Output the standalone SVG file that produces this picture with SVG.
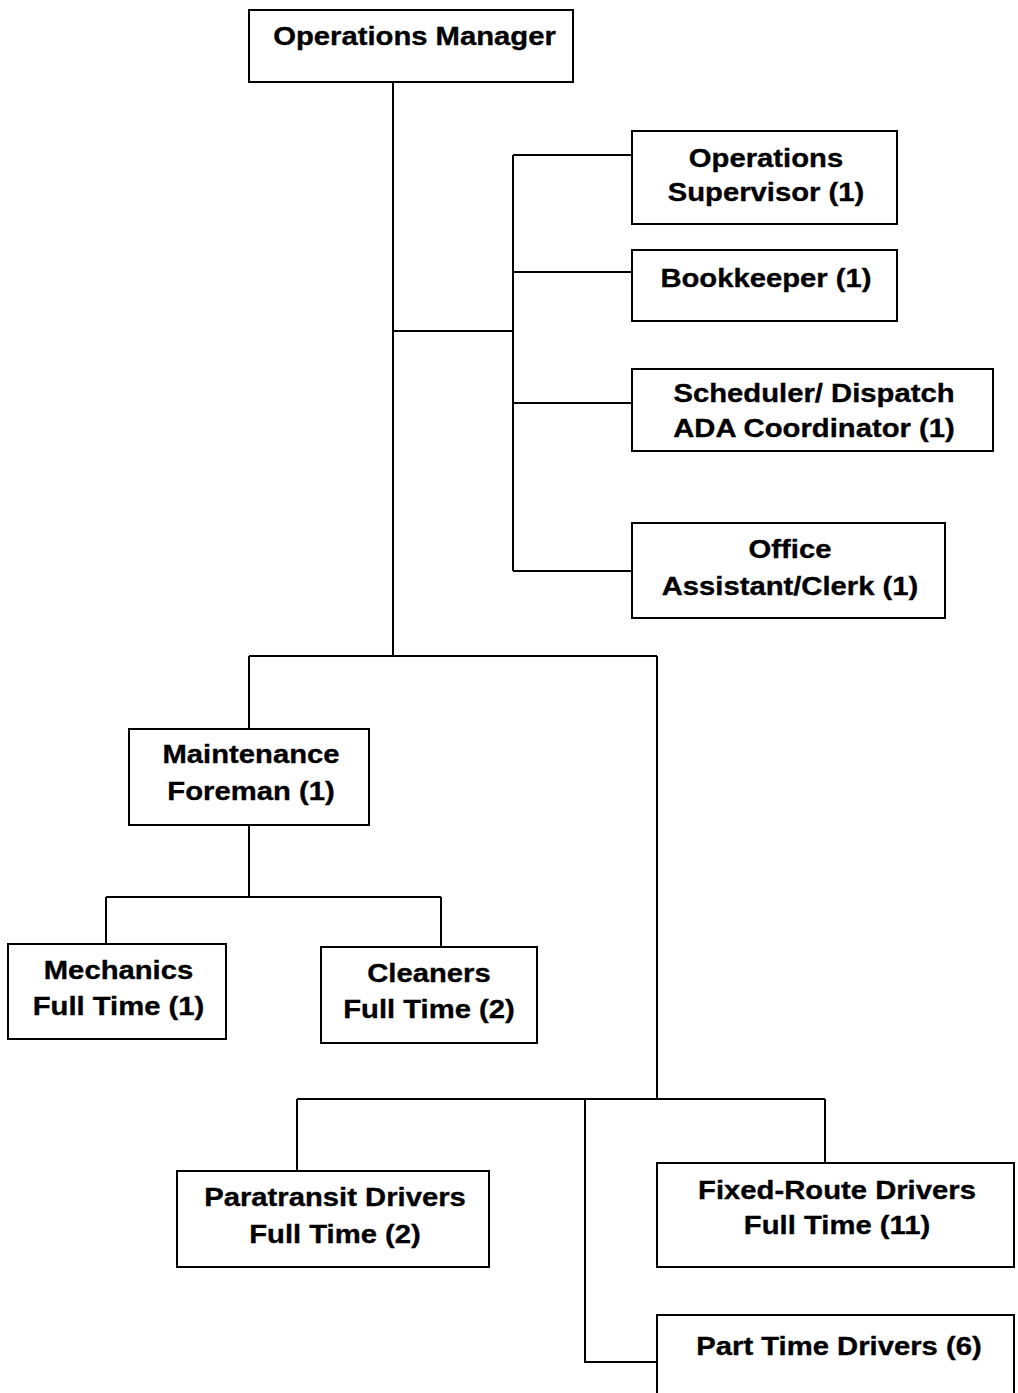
<svg xmlns="http://www.w3.org/2000/svg" width="1018" height="1393" viewBox="0 0 1018 1393">
<style>
.box{fill:#fff;stroke:#000;stroke-width:2}
.t{font-family:"Liberation Sans",Arial,sans-serif;font-weight:bold;font-size:26px;fill:#000;stroke:#000;stroke-width:0.35;text-anchor:middle}
.c{fill:none;stroke:#000;stroke-width:2}
</style>
<rect width="1018" height="1393" fill="#fff"/>
<g id="connectors" class="c">
<path d="M393 82V656"/>
<path d="M393 331H513"/>
<path d="M513 155V571"/>
<path d="M513 155H632M513 272H632M513 403H632M513 571H632"/>
<path d="M249 656H657M249 656V729M657 656V1099"/>
<path d="M249 825V897M106 897H441M106 897V944M441 897V947"/>
<path d="M297 1099H825M297 1099V1171M825 1099V1163M585 1099V1362H657"/>
</g>
<g id="n-ops-manager">
<rect class="box" x="249" y="10" width="324" height="72"/>
<text class="t" transform="translate(414.5,0) scale(1.125,1)"><tspan x="0" y="45">Operations Manager</tspan></text>
</g>
<g id="n-ops-supervisor">
<rect class="box" x="632" y="131" width="265" height="93"/>
<text class="t" transform="translate(766,0) scale(1.125,1)"><tspan x="0" y="167">Operations</tspan><tspan x="0" y="201">Supervisor (1)</tspan></text>
</g>
<g id="n-bookkeeper">
<rect class="box" x="632" y="250" width="265" height="71"/>
<text class="t" transform="translate(766,0) scale(1.125,1)"><tspan x="0" y="287">Bookkeeper (1)</tspan></text>
</g>
<g id="n-scheduler">
<rect class="box" x="632" y="369" width="361" height="82"/>
<text class="t" transform="translate(814,0) scale(1.125,1)"><tspan x="0" y="402">Scheduler/ Dispatch</tspan><tspan x="0" y="437">ADA Coordinator (1)</tspan></text>
</g>
<g id="n-office">
<rect class="box" x="632" y="523" width="313" height="95"/>
<text class="t" transform="translate(790,0) scale(1.125,1)"><tspan x="0" y="558">Office</tspan><tspan x="0" y="595">Assistant/Clerk (1)</tspan></text>
</g>
<g id="n-maintenance">
<rect class="box" x="129" y="729" width="240" height="96"/>
<text class="t" transform="translate(251,0) scale(1.125,1)"><tspan x="0" y="763">Maintenance</tspan><tspan x="0" y="800">Foreman (1)</tspan></text>
</g>
<g id="n-mechanics">
<rect class="box" x="8" y="944" width="218" height="95"/>
<text class="t" transform="translate(118.5,0) scale(1.125,1)"><tspan x="0" y="979">Mechanics</tspan><tspan x="0" y="1015">Full Time (1)</tspan></text>
</g>
<g id="n-cleaners">
<rect class="box" x="321" y="947" width="216" height="96"/>
<text class="t" transform="translate(429,0) scale(1.125,1)"><tspan x="0" y="982">Cleaners</tspan><tspan x="0" y="1018">Full Time (2)</tspan></text>
</g>
<g id="n-paratransit">
<rect class="box" x="177" y="1171" width="312" height="96"/>
<text class="t" transform="translate(335,0) scale(1.125,1)"><tspan x="0" y="1206">Paratransit Drivers</tspan><tspan x="0" y="1243">Full Time (2)</tspan></text>
</g>
<g id="n-fixed-route">
<rect class="box" x="657" y="1163" width="357" height="104"/>
<text class="t" transform="translate(837,0) scale(1.125,1)"><tspan x="0" y="1199">Fixed-Route Drivers</tspan><tspan x="0" y="1234">Full Time (11)</tspan></text>
</g>
<g id="n-part-time">
<rect class="box" x="657" y="1315" width="357" height="100"/>
<text class="t" transform="translate(839,0) scale(1.125,1)"><tspan x="0" y="1355">Part Time Drivers (6)</tspan></text>
</g>
</svg>
